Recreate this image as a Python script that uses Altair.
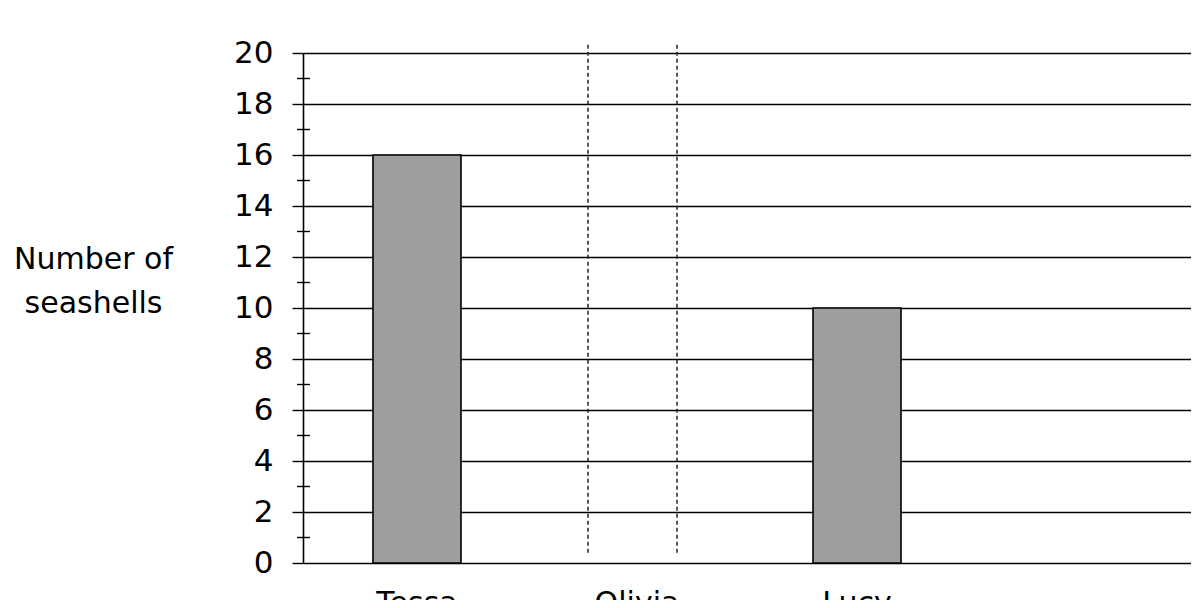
import altair as alt
import pandas as pd

# Data
names = ["Tessa", "Lucy"]
values = [16, 10]
slots = ["Tessa", "Olivia", "Lucy", ""]
olivia_name = ["Olivia"]
olivia_low = [0.4]
olivia_high = [20.4]
major_ticks = [0, 2, 4, 6, 8, 10, 12, 14, 16, 18, 20]
minor_ticks = [1, 3, 5, 7, 9, 11, 13, 15, 17, 19]

FONT = "DejaVu Sans"

bars_df = pd.DataFrame({"name": names, "value": values})
olivia_df = pd.DataFrame({"name": olivia_name, "low": olivia_low, "high": olivia_high})
minor_df = pd.DataFrame({"v": minor_ticks})

xscale = alt.Scale(domain=slots, paddingInner=0.6, paddingOuter=0.318)
yscale = alt.Scale(domain=[0, 20], nice=False, zero=True)

xaxis = alt.Axis(
    title=None, domain=False, ticks=False, grid=False, labelAngle=0,
    labelFont=FONT, labelFontSize=30, labelColor="black", labelPadding=25,
)
yaxis = alt.Axis(
    values=major_ticks, tickSize=11, tickColor="black", tickWidth=1.4,
    domainColor="black", domainWidth=1.6, grid=True, gridColor="black",
    gridWidth=1.3, gridOpacity=1, labelFont=FONT, labelFontSize=31,
    labelColor="black", labelPadding=19,
    title=["Number of", "seashells"], titleAngle=0, titleAlign="center",
    titleBaseline="alphabetic", titleX=-210, titleY=215, titleFont=FONT,
    titleFontSize=30, titleFontWeight="normal", titleColor="black",
    titleLineHeight=44,
)

bars = alt.Chart(bars_df).mark_bar(
    fill="#9e9e9e", stroke="black", strokeWidth=1.6
).encode(
    x=alt.X("name:N", scale=xscale, axis=xaxis, sort=slots),
    y=alt.Y("value:Q", scale=yscale, axis=yaxis),
)

dash_style = dict(color="#222222", strokeWidth=1.5, strokeDash=[4, 3])
olivia_left = alt.Chart(olivia_df).mark_rule(xOffset=-49, **dash_style).encode(
    x=alt.X("name:N", scale=xscale, sort=slots),
    y=alt.Y("low:Q", scale=yscale),
    y2="high:Q",
)
olivia_right = alt.Chart(olivia_df).mark_rule(xOffset=40, **dash_style).encode(
    x=alt.X("name:N", scale=xscale, sort=slots),
    y=alt.Y("low:Q", scale=yscale),
    y2="high:Q",
)

minor = alt.Chart(minor_df).mark_rule(color="black", strokeWidth=1.4).encode(
    x=alt.value(-6), x2=alt.value(7), y=alt.Y("v:Q", scale=yscale),
)

chart = alt.layer(bars, olivia_left, olivia_right, minor).properties(
    width=888, height=510,
    autosize=alt.AutoSizeParams(type="none"),
    padding={"left": 295, "top": 45, "right": 0, "bottom": 37},
    background="white",
).configure_view(stroke=None)

chart.save("out.html", embed_options={"renderer": "svg", "actions": False})
